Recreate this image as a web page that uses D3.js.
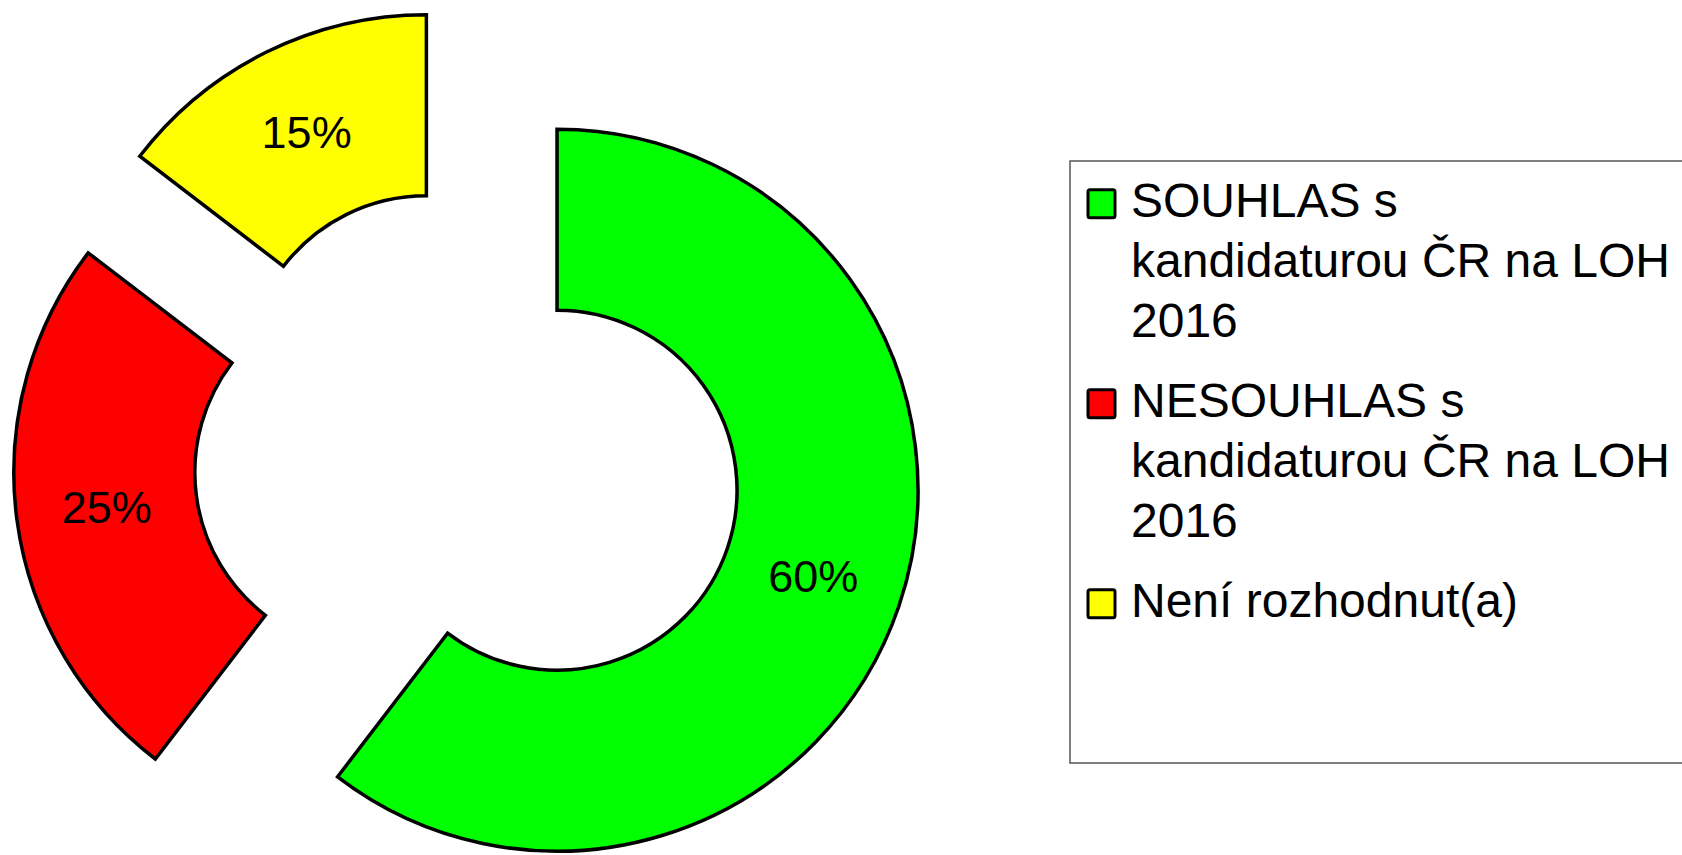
<!DOCTYPE html>
<html>
<head>
<meta charset="utf-8">
<script src="https://cdn.jsdelivr.net/npm/d3@7"></script>
<style>
  body { margin: 0; background: #fff; }
  svg { display: block; }
</style>
</head>
<body>
<div class="chart"></div>
<script>
// values (shares in %)
const categories = [
  "SOUHLAS s kandidaturou ČR na LOH 2016",
  "NESOUHLAS s kandidaturou ČR na LOH 2016",
  "Není rozhodnut(a)"
];
const legendLines = [
  ["SOUHLAS s", "kandidaturou ČR na LOH", "2016"],
  ["NESOUHLAS s", "kandidaturou ČR na LOH", "2016"],
  ["Není rozhodnut(a)"]
];
const values = [60.4, 25.0, 14.6];
const colors = ["#00ff00", "#ff0000", "#ffff00"];

const width = 1682, height = 855;
const center = { x: 468, y: 460 };
const outerR = 361, innerR = 180, explode = 94;

const svg = d3.select(".chart")
  .append("svg")
  .attr("width", width)
  .attr("height", height);

svg.append("rect")
  .attr("width", width)
  .attr("height", height)
  .attr("fill", "#fff");

const data = categories.map((c, i) => ({ name: c, value: values[i], color: colors[i] }));

const pie = d3.pie()
  .sort(null)
  .value(d => d.value)
  .startAngle(0)
  .endAngle(2 * Math.PI);

const arc = d3.arc()
  .innerRadius(innerR)
  .outerRadius(outerR);

const total = d3.sum(values);
const pct = d3.format(".0%");

// exploded donut: each slice pushed out along its mid angle
const slices = svg.append("g")
  .attr("transform", `translate(${center.x},${center.y})`)
  .selectAll("g")
  .data(pie(data))
  .enter().append("g")
  .attr("transform", d => {
    const mid = (d.startAngle + d.endAngle) / 2;
    return `translate(${explode * Math.sin(mid)},${-explode * Math.cos(mid)})`;
  });

slices.append("path")
  .attr("d", arc)
  .attr("fill", d => d.data.color)
  .attr("stroke", "#000")
  .attr("stroke-width", 3.5)
  .attr("stroke-linejoin", "miter");

slices.append("text")
  .attr("x", d => arc.centroid(d)[0])
  .attr("y", d => arc.centroid(d)[1] + 15)
  .attr("text-anchor", "middle")
  .attr("font-family", "'Liberation Sans', Arial, sans-serif")
  .attr("font-size", "45px")
  .attr("fill", "#000")
  .text(d => pct(d.data.value / total));

// legend
const legend = svg.append("g").attr("class", "legend");

legend.append("rect")
  .attr("x", 1070)
  .attr("y", 161)
  .attr("width", 700)
  .attr("height", 602)
  .attr("fill", "#fff")
  .attr("stroke", "#555")
  .attr("stroke-width", 1.5);

const lineH = 60, itemGap = 80;
let baseline = 216.7;
data.forEach((d, i) => {
  const item = legend.append("g");
  item.append("rect")
    .attr("x", 1088)
    .attr("y", baseline - 27)
    .attr("width", 27)
    .attr("height", 28)
    .attr("fill", d.color)
    .attr("stroke", "#000")
    .attr("stroke-width", 3)
    .attr("rx", 2);
  const lines = legendLines[i];
  lines.forEach((t, j) => {
    item.append("text")
      .attr("x", 1131)
      .attr("y", baseline + j * lineH)
      .attr("font-family", "'Liberation Sans', Arial, sans-serif")
      .attr("font-size", "48px")
      .attr("fill", "#000")
      .text(t);
  });
  baseline += (lines.length - 1) * lineH + itemGap;
});
</script>
</body>
</html>
